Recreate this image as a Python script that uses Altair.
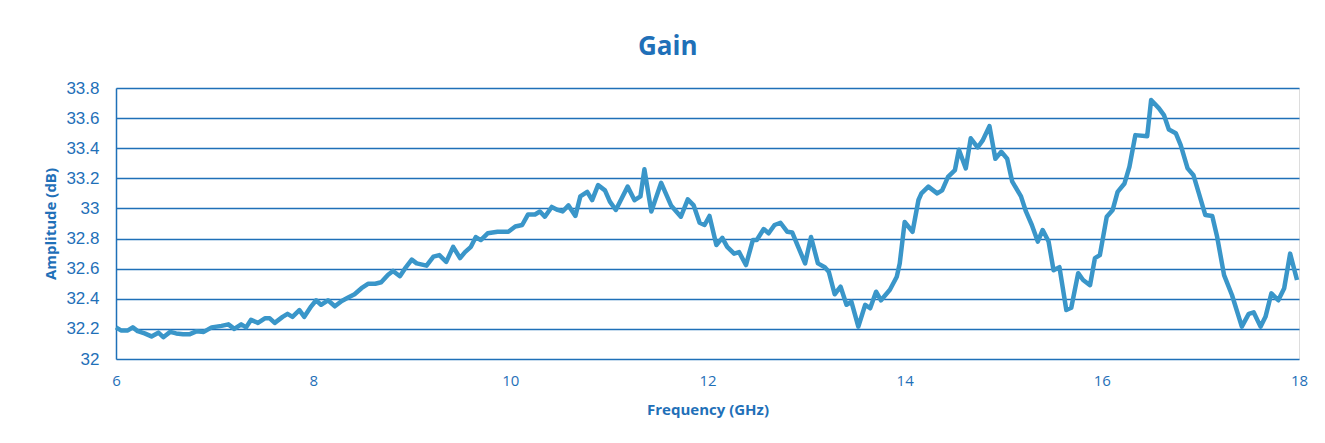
import altair as alt
import pandas as pd

freq_ghz = [
    6.00, 6.05, 6.12, 6.17, 6.22, 6.29, 6.36, 6.43, 6.48, 6.55, 6.61, 6.68, 6.75, 6.82, 6.89,
    6.97, 7.07, 7.14, 7.20, 7.27, 7.32, 7.37, 7.44, 7.51, 7.56, 7.61, 7.69, 7.74, 7.79, 7.86,
    7.91, 7.98, 8.03, 8.08, 8.15, 8.22, 8.29, 8.36, 8.42, 8.49, 8.56, 8.63, 8.69, 8.76, 8.81,
    8.88, 8.93, 9.00, 9.05, 9.15, 9.22, 9.28, 9.35, 9.42, 9.49, 9.54, 9.60, 9.65, 9.70, 9.77,
    9.87, 9.98, 10.05, 10.12, 10.18, 10.25, 10.30, 10.35, 10.42, 10.48, 10.53, 10.59, 10.66,
    10.71, 10.78, 10.83, 10.89, 10.96, 11.01, 11.07, 11.12, 11.19, 11.26, 11.32, 11.36, 11.43,
    11.53, 11.63, 11.73, 11.80, 11.86, 11.92, 11.97, 12.02, 12.09, 12.15, 12.20, 12.27, 12.32,
    12.39, 12.46, 12.50, 12.57, 12.62, 12.68, 12.74, 12.81, 12.86, 12.92, 12.99, 13.05, 13.12,
    13.19, 13.23, 13.29, 13.35, 13.41, 13.46, 13.53, 13.60, 13.65, 13.71, 13.76, 13.85, 13.92,
    13.95, 14.00, 14.08, 14.14, 14.17, 14.24, 14.33, 14.38, 14.44, 14.51, 14.55, 14.62, 14.67,
    14.74, 14.79, 14.86, 14.92, 14.98, 15.04, 15.09, 15.18, 15.23, 15.29, 15.35, 15.40, 15.46,
    15.51, 15.57, 15.64, 15.69, 15.76, 15.81, 15.88, 15.93, 15.98, 16.05, 16.11, 16.16, 16.23,
    16.28, 16.34, 16.46, 16.50, 16.58, 16.63, 16.68, 16.75, 16.80, 16.87, 16.93, 16.98, 17.05,
    17.12, 17.17, 17.24, 17.32, 17.42, 17.49, 17.54, 17.61, 17.66, 17.72, 17.79, 17.85, 17.91,
    17.98,
]

gain_db = [
    32.21, 32.19, 32.19, 32.21, 32.185, 32.17, 32.15, 32.175, 32.145, 32.18, 32.17, 32.165, 32.165, 32.185, 32.18,
    32.21, 32.22, 32.23, 32.20, 32.23, 32.21, 32.26, 32.24, 32.27, 32.27, 32.24, 32.28, 32.30, 32.28, 32.325,
    32.28, 32.35, 32.39, 32.36, 32.39, 32.35, 32.385, 32.41, 32.43, 32.47, 32.50, 32.50, 32.51, 32.56, 32.585,
    32.55, 32.60, 32.66, 32.635, 32.62, 32.68, 32.69, 32.645, 32.745, 32.67, 32.71, 32.745, 32.81, 32.79, 32.835,
    32.845, 32.845, 32.88, 32.89, 32.96, 32.96, 32.98, 32.945, 33.01, 32.99, 32.98, 33.02, 32.95,
    33.08, 33.11, 33.055, 33.155, 33.12, 33.045, 32.99, 33.055, 33.145, 33.055, 33.08, 33.26, 32.98,
    33.17, 33.02, 32.945, 33.06, 33.02, 32.905, 32.89, 32.95, 32.757, 32.805, 32.745, 32.70, 32.71,
    32.624, 32.79, 32.79, 32.863, 32.835, 32.89, 32.905, 32.845, 32.84, 32.745, 32.635, 32.81, 32.635,
    32.61, 32.58, 32.43, 32.48, 32.36, 32.38, 32.215, 32.36, 32.337, 32.447, 32.39, 32.46, 32.546,
    32.635, 32.91, 32.845, 33.056, 33.10, 33.145, 33.10, 33.12, 33.21, 33.255, 33.39, 33.266, 33.466,
    33.405, 33.45, 33.547, 33.33, 33.376, 33.33, 33.18, 33.08, 32.98, 32.89, 32.78, 32.857, 32.78,
    32.59, 32.61, 32.325, 32.34, 32.57, 32.525, 32.49, 32.67, 32.69, 32.945, 32.99, 33.11, 33.166,
    33.277, 33.487, 33.48, 33.72, 33.665, 33.62, 33.525, 33.50, 33.42, 33.266, 33.22, 33.11, 32.956,
    32.95, 32.81, 32.557, 32.425, 32.215, 32.30, 32.31, 32.215, 32.28, 32.436, 32.39, 32.47, 32.70,
    32.525,
]

x_ticks = [6, 8, 10, 12, 14, 16, 18]
y_ticks = [32.0, 32.2, 32.4, 32.6, 32.8, 33.0, 33.2, 33.4, 33.6, 33.8]

df = pd.DataFrame({"freq": freq_ghz, "gain": gain_db})

BLUE = "#1f70b8"
LINE = "#3a96c9"
FONT = "Open Sans"

chart = (
    alt.Chart(df)
    .mark_line(color=LINE, strokeWidth=4.5, strokeJoin="round")
    .encode(
        x=alt.X(
            "freq:Q",
            scale=alt.Scale(domain=[6, 18], nice=False, zero=False),
            axis=alt.Axis(
                values=x_ticks, format="d", title="Frequency (GHz)", grid=False,
                domain=False, ticks=False, labelPadding=14, labelFontSize=15,
                labelFlush=False,
                labelColor=BLUE, labelFont=FONT, titleFont=FONT, titleFontSize=15,
                titleFontWeight="bold", titleColor=BLUE, titlePadding=14,
            ),
        ),
        y=alt.Y(
            "gain:Q",
            scale=alt.Scale(domain=[32, 33.8], nice=False, zero=False),
            axis=alt.Axis(
                values=y_ticks, format=".1~f", title="Amplitude (dB)", grid=True,
                gridColor=BLUE, gridWidth=1.5, gridOpacity=1,
                domain=True, domainColor=BLUE, domainWidth=1.5,
                ticks=False, labelPadding=17, labelFontSize=17, labelColor=BLUE,
                labelFlush=False,
                labelFont="Liberation Sans", titleFont=FONT, titleFontSize=15,
                titleFontWeight="bold", titleColor=BLUE, titlePadding=7,
            ),
        ),
    )
    .properties(
        width=1183,
        height=271,
        title=alt.TitleParams(
            "Gain", font=FONT, fontSize=26, fontWeight="bold", color=BLUE,
            anchor="middle", frame="bounds", offset=19, dx=-8,
        ),
        autosize=alt.AutoSizeParams(type="none"),
        padding={"left": 108, "top": 80, "right": 18, "bottom": 68},
    )
    .configure_view(stroke=None)
    .configure(background="white")
)

chart.save("out.html", embed_options={"renderer": "svg", "actions": False})
